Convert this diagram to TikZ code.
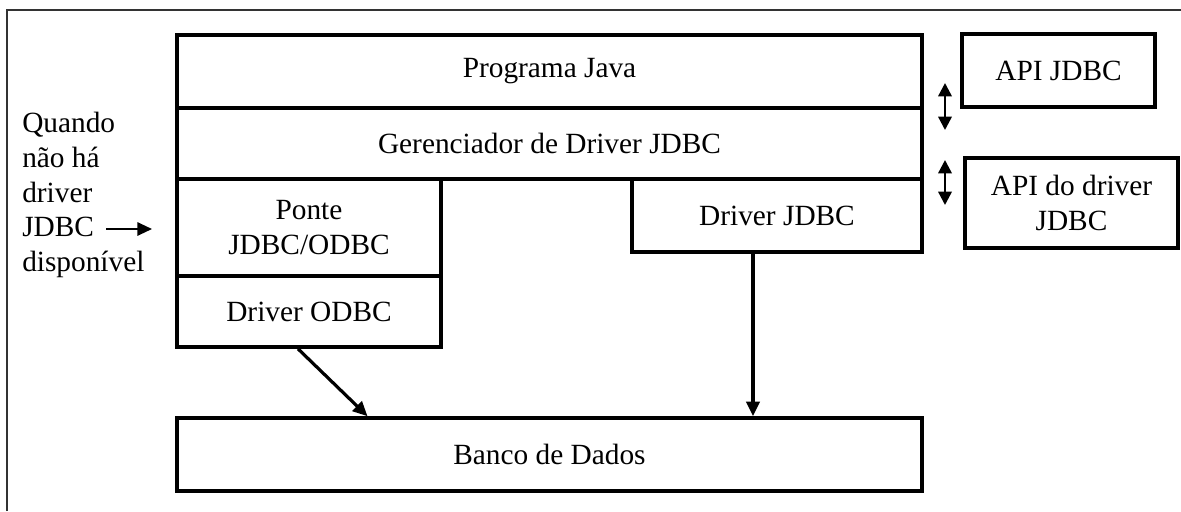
\documentclass[tikz,border=0pt]{standalone}
\usepackage{fontspec}
\setmainfont{Liberation Serif}
\usetikzlibrary{arrows.meta}
\begin{document}
\begin{tikzpicture}[x=0.75pt, y=-0.75pt,
    every node/.style={font=\fontsize{22}{26}\selectfont},
    layer/.style={draw, line width=2.7pt, inner sep=0pt, align=center},
    arr/.style={-{Triangle[length=11pt, width=10pt]}, line width=2.4pt},
    dbl/.style={{Triangle[length=10pt, width=10pt]}-{Triangle[length=10pt, width=10pt]}, line width=1.8pt}]
    \useasboundingbox (0, 0) rectangle (1181, 511);
    \draw[line width=1.2pt, black!80] (7, 511) -- (7, 10) -- (1181, 10);

    \node[layer, minimum width=558.75pt, minimum height=54.75pt] (java) at (549.5, 71.5) {Programa Java};
    \node[layer, minimum width=558.75pt, minimum height=53.25pt] (gerente) at (549.5, 143.5) {Gerenciador de Driver JDBC};
    \node[layer, minimum width=198pt, minimum height=72.75pt] (ponte) at (309, 227.5) {Ponte\\JDBC/ODBC};
    \node[layer, minimum width=198pt, minimum height=53.25pt] (odbc) at (309, 311.5) {Driver ODBC};
    \node[layer, minimum width=217.5pt, minimum height=54.75pt] (jdbc) at (777, 215.5) {Driver JDBC};
    \node[layer, minimum width=558.75pt, minimum height=54.75pt] (banco) at (549.5, 454.5) {Banco de Dados};
    \node[layer, minimum width=144.75pt, minimum height=54.75pt] (apijdbc) at (1058.5, 70.5) {API JDBC};
    \node[layer, minimum width=159.75pt, minimum height=67.5pt] (apidriver) at (1071.5, 203) {API do driver\\JDBC};

    \node[align=left, anchor=west, inner sep=0pt] (semdriver) at (22, 195) {Quando\\não há\\driver\\JDBC\\disponível};
    \coordinate (dicaini) at (106, 229);
    \coordinate (dicafim) at (152, 229);
    \draw[arr, line width=1.5pt] (dicaini) -- (dicafim);

    \draw[arr] ([xshift=-8.25pt]odbc.south) -- ([xshift=-136.5pt]banco.north);
    \coordinate (jdbcsai) at ([xshift=-18pt]jdbc.south);
    \draw[arr] (jdbcsai) -- (jdbcsai |- banco.north);

    \coordinate (apitopo) at (945, 83);
    \coordinate (apibase) at (945, 130);
    \draw[dbl] (apitopo) -- (apibase);
    \coordinate (drvtopo) at (945, 160);
    \coordinate (drvbase) at (945, 205);
    \draw[dbl] (drvtopo) -- (drvbase);
\end{tikzpicture}
\end{document}
